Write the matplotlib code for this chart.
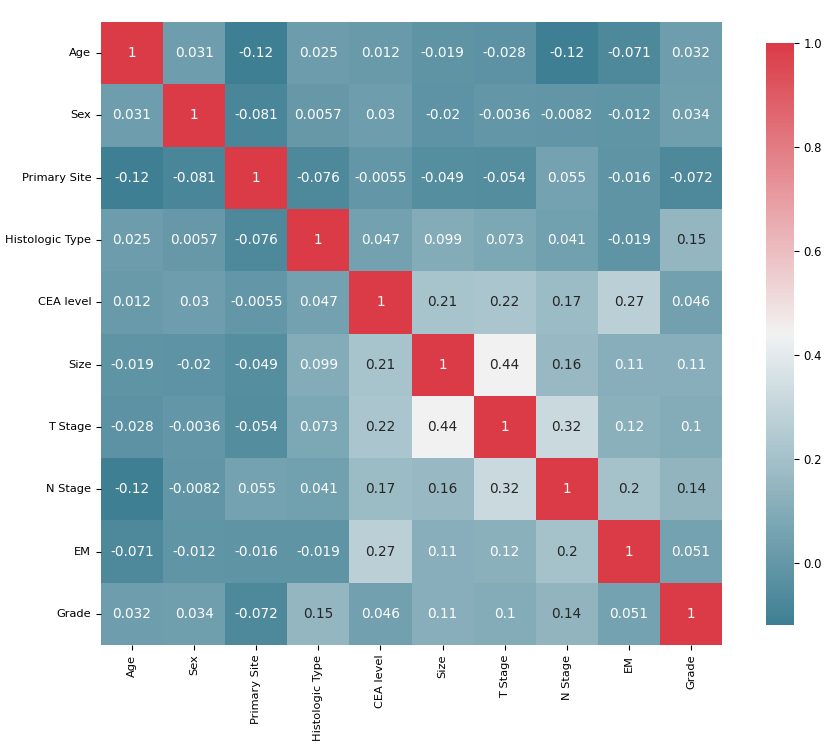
import numpy as np
import matplotlib
matplotlib.use("Agg")
import matplotlib.pyplot as plt
import seaborn as sns

# variable names
labels = ['Age', 'Sex', 'Primary Site', 'Histologic Type', 'CEA level',
          'Size', 'T Stage', 'N Stage', 'EM', 'Grade']

# correlation rows
age = [1, 0.031, -0.12, 0.025, 0.012, -0.019, -0.028, -0.12, -0.071, 0.032]
sex = [0.031, 1, -0.081, 0.0057, 0.03, -0.02, -0.0036, -0.0082, -0.012, 0.034]
primary_site = [-0.12, -0.081, 1, -0.076, -0.0055, -0.049, -0.054, 0.055, -0.016, -0.072]
histologic = [0.025, 0.0057, -0.076, 1, 0.047, 0.099, 0.073, 0.041, -0.019, 0.15]
cea = [0.012, 0.03, -0.0055, 0.047, 1, 0.21, 0.22, 0.17, 0.27, 0.046]
size = [-0.019, -0.02, -0.049, 0.099, 0.21, 1, 0.44, 0.16, 0.11, 0.11]
t_stage = [-0.028, -0.0036, -0.054, 0.073, 0.22, 0.44, 1, 0.32, 0.12, 0.1]
n_stage = [-0.12, -0.0082, 0.055, 0.041, 0.17, 0.16, 0.32, 1, 0.2, 0.14]
em = [-0.071, -0.012, -0.016, -0.019, 0.27, 0.11, 0.12, 0.2, 1, 0.051]
grade = [0.032, 0.034, -0.072, 0.15, 0.046, 0.11, 0.1, 0.14, 0.051, 1]

corr = np.array([age, sex, primary_site, histologic, cea,
                 size, t_stage, n_stage, em, grade])

fig = plt.figure(figsize=(8.29, 7.53), dpi=100)
ax = fig.add_axes([101/829, 1 - 645/753, 621/829, 623/753])
cax = fig.add_axes([766/829, 1 - 625/753, 28/829, 582/753])

cmap = sns.diverging_palette(220, 10, as_cmap=True)
sns.heatmap(corr, cmap=cmap, annot=True, fmt='.2g', ax=ax, cbar_ax=cax,
            xticklabels=labels, yticklabels=labels,
            annot_kws={'size': 9.8})

ax.tick_params(labelsize=8.2)
plt.setp(ax.get_xticklabels(), rotation=90)
plt.setp(ax.get_yticklabels(), rotation=0)
cax.tick_params(labelsize=8.4)
cax.set_yticks([0.0, 0.2, 0.4, 0.6, 0.8, 1.0])

plt.savefig("out.png", dpi=100)
